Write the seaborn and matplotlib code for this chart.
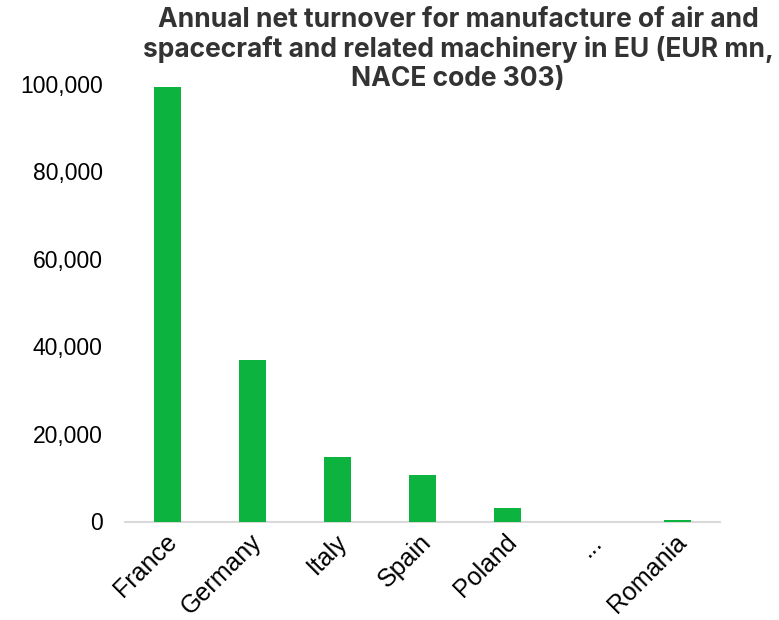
import matplotlib
matplotlib.use("Agg")
import matplotlib.pyplot as plt
import matplotlib.transforms as mtransforms
import seaborn as sns
import pandas as pd
from matplotlib.ticker import FuncFormatter

countries = ["France", "Germany", "Italy", "Spain", "Poland", "...", "Romania"]
turnover = [99200, 36850, 14700, 10600, 3100, 0, 450]

sns.set_theme(style="white")
plt.rcParams['font.family'] = ['Liberation Sans', 'DejaVu Sans']

df = pd.DataFrame({"country": countries, "turnover": turnover})

fig = plt.figure(figsize=(7.79, 6.2), dpi=100)
ax = fig.add_axes([125/779, 1 - 521.5/620, 595/779, 438/620])
sns.barplot(data=df, x="country", y="turnover", color="#0DB33F", saturation=1,
            width=0.32, ax=ax, zorder=3, linewidth=0, edgecolor="#0DB33F")
ax.set_ylim(0, 100000)
ax.set_xlim(-0.5, 6.5)
ax.set_yticks([0, 20000, 40000, 60000, 80000, 100000])
ax.yaxis.set_major_formatter(FuncFormatter(lambda v, p: f"{int(v):,}"))
ax.set_xlabel("")
ax.set_ylabel("")
for s in ["top", "right", "left"]:
    ax.spines[s].set_visible(False)
ax.spines["bottom"].set_color("#D9D9D9")
ax.spines["bottom"].set_linewidth(1.5)
ax.spines["bottom"].set_zorder(1)
ax.tick_params(axis="y", labelsize=16.5, colors="#000000", length=0, pad=16)
ax.tick_params(axis="x", labelsize=18, colors="#000000", length=0, pad=12)
offset = mtransforms.ScaledTranslation(4/72, 0, fig.dpi_scale_trans)
for lab in ax.get_xticklabels():
    lab.set_rotation(45)
    lab.set_ha("right")
    lab.set_va("center")
    lab.set_rotation_mode("anchor")
    lab.set_transform(lab.get_transform() + offset)

fig.text(458/779, 1 - 7/620,
         "Annual net turnover for manufacture of air and\nspacecraft and related machinery in EU (EUR mn,\nNACE code 303)",
         ha="center", va="top", fontsize=19, fontweight="bold", color="#333333",
         family=["Inter", "DejaVu Sans"], linespacing=1.15)

fig.savefig("out.png", dpi=100)
